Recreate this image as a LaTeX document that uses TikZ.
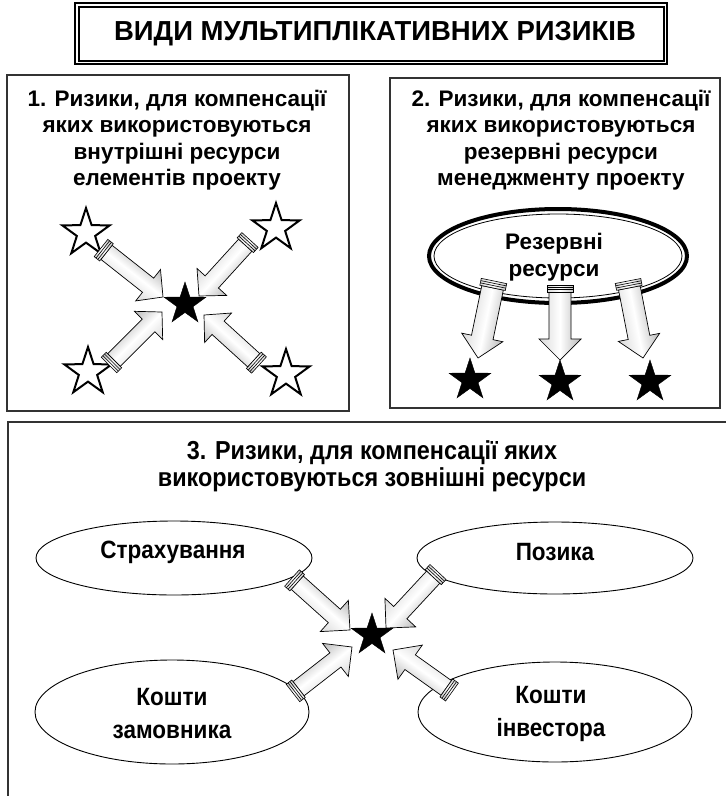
\documentclass[tikz,border=0pt]{standalone}
\usepackage{fontspec}
\setmainfont{Liberation Sans}
\newfontfamily\narrowfont[FakeStretch=0.9]{Liberation Sans}
\usetikzlibrary{shapes.geometric,calc}

\tikzset{
  frame/.style={draw=black!80, line width=1.4pt},
  hdr/.style={font=\bfseries\fontsize{22.5}{26.5}\selectfont, align=center, inner sep=0pt},
  lbl/.style={font=\narrowfont\bfseries\fontsize{25}{33}\selectfont, align=center, inner sep=0pt},
  wstar/.style={star, star points=5, star point ratio=2.6, draw=black, line width=2pt, fill=white, minimum size=50pt, inner sep=0pt},
  bstar/.style={star, star points=5, star point ratio=2.6, draw=black, fill=black, minimum size=44pt, inner sep=0pt},
  oval/.style={ellipse, draw=black, line width=0.9pt, inner sep=0pt}
}

% tube arrow: #1 tail, #2 tip, #3 shaft width, #4 head width, #5 head length
\newcommand\tubearrow[5]{%
  \path let \p1=($(#2)-(#1)$), \n1={atan2(\y1,\x1)}, \n2={veclen(\x1,\y1)} in
    \pgfextra{\xdef\TAang{\n1}\xdef\TAlen{\n2}};
  \begin{scope}[transform canvas={shift={(#1)},rotate=\TAang}]
    \pgfmathsetmacro\TAw{#3/2}\pgfmathsetmacro\TAh{#4/2}%
    \pgfmathsetmacro\TAb{\TAlen-#5}\pgfmathsetmacro\TAc{#3/2+2}%
    \shade[draw=black, line width=0.7pt, top color=gray!55, bottom color=gray!30, middle color=white]
      (7,-\TAw) -- (\TAb,-\TAw) -- (\TAb,-\TAh) -- (\TAlen,0) -- (\TAb,\TAh) -- (\TAb,\TAw) -- (7,\TAw) -- cycle;
    \shade[draw=black, line width=0.6pt, top color=gray!45, bottom color=gray!30, middle color=white]
      (0,-\TAc) rectangle (7,\TAc);
    \draw[line width=0.6pt] (2.3,-\TAc) -- (2.3,\TAc) (4.6,-\TAc) -- (4.6,\TAc);
  \end{scope}}

\begin{document}
\begin{tikzpicture}[x=1pt,y=-1pt]
\useasboundingbox (0,0) rectangle (726,796);

% ---- title
\draw[line width=1.2pt] (75,3) rectangle (667,64);
\draw[line width=2pt] (78.5,6.5) rectangle (663.5,60.5);
\node[font=\bfseries\fontsize{27.5}{30}\selectfont, inner sep=0pt] (title) at (375,34) {ВИДИ МУЛЬТИПЛІКАТИВНИХ РИЗИКІВ};

% ---- box 1
\draw[frame] (7,75) rectangle (349,411);
\node[hdr] (t1) at (177,140) {1. Ризики, для компенсації\\яких використовуються\\внутрішні ресурси\\елементів проекту};
\node[wstar] (s1a) at (86,233) {};
\node[wstar] (s1b) at (276,228) {};
\node[wstar] (s1c) at (88,372) {};
\node[wstar] (s1d) at (286,374) {};
\node[bstar] (c1) at (185,304) {};
\coordinate (a1t) at (101,248); \coordinate (a1h) at (163,297);
\coordinate (b1t) at (250,240); \coordinate (b1h) at (199,296);
\coordinate (c1t) at (109,365); \coordinate (c1h) at (162,312);
\coordinate (d1t) at (259,365); \coordinate (d1h) at (204,315);
\tubearrow{a1t}{a1h}{18}{40}{19}
\tubearrow{b1t}{b1h}{18}{40}{19}
\tubearrow{c1t}{c1h}{18}{40}{19}
\tubearrow{d1t}{d1h}{18}{40}{19}

% ---- box 2
\draw[frame] (390,78) rectangle (720,408);
\node[hdr] (t2) at (561,140) {2. Ризики, для компенсації\\яких використовуються\\резервні ресурси\\менеджменту проекту};
\node[ellipse, draw=black, line width=4pt, minimum width=258pt, minimum height=94pt, inner sep=0pt] (res) at (558,256) {};
\draw[line width=0.8pt] (res.center) ellipse [x radius=124, y radius=42];
\node[hdr] at (554,257) {Резервні\\ресурси};
\node[bstar] (s2a) at (470,380) {};
\node[bstar] (s2b) at (560,382) {};
\node[bstar] (s2c) at (650,382) {};
\coordinate (a2t) at (494,281); \coordinate (a2h) at (478,358);
\coordinate (b2t) at (560,285); \coordinate (b2h) at (560,360);
\coordinate (c2t) at (628,281); \coordinate (c2h) at (643,358);
\tubearrow{a2t}{a2h}{22}{42}{21}
\tubearrow{b2t}{b2h}{22}{42}{21}
\tubearrow{c2t}{c2h}{22}{42}{21}

% ---- box 3
\draw[frame] (8,822) -- (8,422) -- (740,422);
\node[font=\narrowfont\bfseries\fontsize{26}{27}\selectfont, align=center, inner sep=0pt] (t3) at (372,466) {3. Ризики, для компенсації яких\\використовуються зовнішні ресурси};
\node[oval, minimum width=276pt, minimum height=74pt] (e1) at (174,558) {};
\node[oval, minimum width=276pt, minimum height=72pt] (e2) at (555,558) {};
\node[oval, minimum width=274pt, minimum height=104pt] (e3) at (172,712) {};
\node[oval, minimum width=274pt, minimum height=100pt] (e4) at (555,712) {};
\node[lbl] at (173,552) {Страхування};
\node[lbl] at (555,552) {Позика};
\node[lbl] at (172,714) {Кошти\\замовника};
\node[lbl] at (551,714) {Кошти\\інвестора};
\node[bstar] (c3) at (372,635) {};
\coordinate (a3t) at (292,578); \coordinate (a3h) at (350,630);
\coordinate (b3t) at (438,572); \coordinate (b3h) at (386,628);
\coordinate (c3t) at (293,693); \coordinate (c3h) at (352,647);
\coordinate (d3t) at (452,692); \coordinate (d3h) at (393,650);
\tubearrow{a3t}{a3h}{18}{42}{21}
\tubearrow{b3t}{b3h}{18}{42}{21}
\tubearrow{c3t}{c3h}{18}{42}{21}
\tubearrow{d3t}{d3h}{18}{42}{21}
\end{tikzpicture}
\end{document}
